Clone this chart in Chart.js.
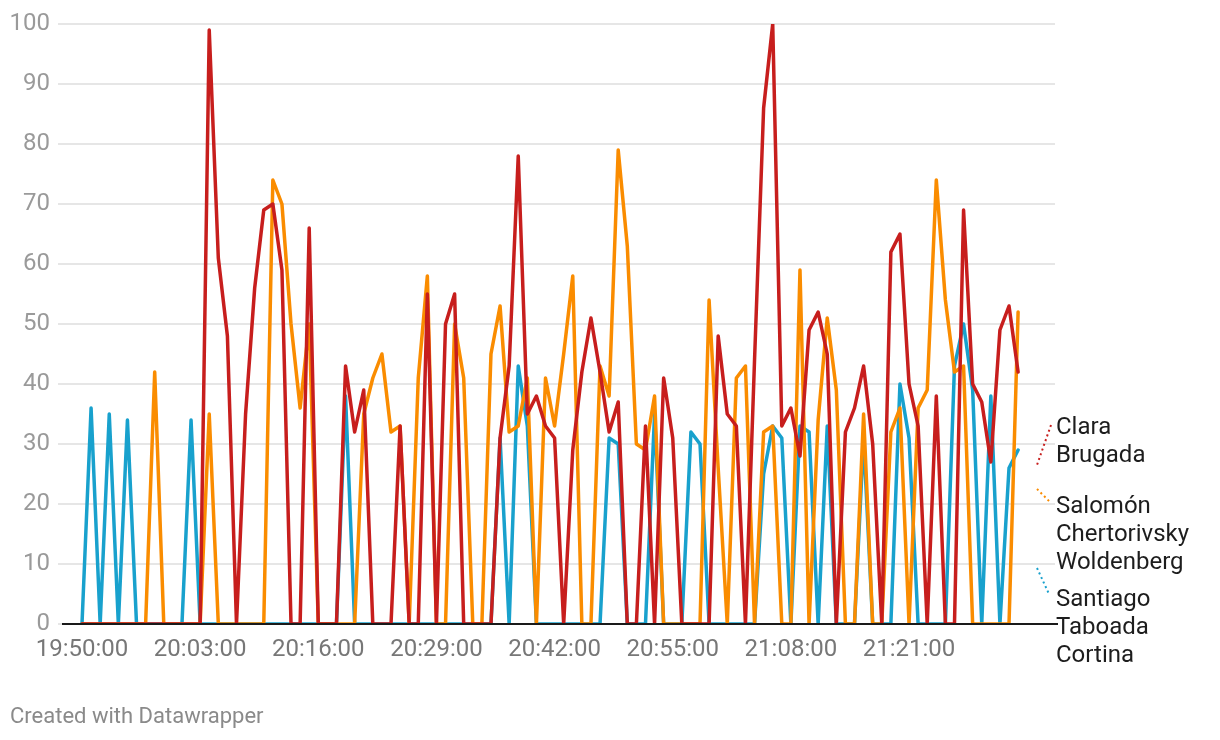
<!DOCTYPE html>
<html lang="es">
<head>
    <meta charset="UTF-8">
    <title>Menciones por minuto</title>
    <script src="https://cdn.jsdelivr.net/npm/chart.js"></script>
    <style>
        body {
            margin: 0;
            padding: 0;
            background-color: #ffffff;
            font-family: Roboto, Arial, sans-serif;
        }
        .wrap {
            position: relative;
            width: 1220px;
            height: 740px;
        }
        .credit {
            position: absolute;
            left: 10px;
            top: 703px;
            font-size: 22px;
            color: #8a8a8a;
        }
    </style>
</head>
<body>
    <div class="wrap">
        <canvas id="lineChart" width="1220" height="740"></canvas>
        <div class="credit">Created with Datawrapper</div>
    </div>
    <script>
        // one reading per minute, starting 19:50:00
        const startTime = '19:50:00';
        const tickLabels = ['19:50:00', '20:03:00', '20:16:00', '20:29:00', '20:42:00', '20:55:00', '21:08:00', '21:21:00'];
        const tickStep = 13;

        const seriesNames = [['Clara', 'Brugada'], ['Salomón', 'Chertorivsky', 'Woldenberg'], ['Santiago', 'Taboada', 'Cortina']];
        const seriesColors = ['#c71e1d', '#fa8c00', '#18a1cd'];

        const claraBrugada = [
            0, 0, 0, 0, 0, 0, 0, 0, 0, 0,
            0, 0, 0, 0, 99, 61, 48, 0, 35, 56,
            69, 70, 59, 0, 0, 66, 0, 0, 0, 43,
            32, 39, 0, 0, 0, 33, 0, 0, 55, 0,
            50, 55, 0, 0, 0, 0, 31, 43, 78, 35,
            38, 33, 31, 0, 29, 42, 51, 42, 32, 37,
            0, 0, 33, 0, 41, 31, 0, 0, 0, 0,
            48, 35, 33, 0, 44, 86, 100, 33, 36, 28,
            49, 52, 45, 0, 32, 36, 43, 30, 0, 62,
            65, 40, 33, 0, 38, 0, 0, 69, 40, 37,
            27, 49, 53, 42
        ];
        const salomonChertorivsky = [
            0, 0, 0, 0, 0, 0, 0, 0, 42, 0,
            0, 0, 0, 0, 35, 0, 0, 0, 0, 0,
            0, 74, 70, 50, 36, 50, 0, 0, 0, 0,
            0, 35, 41, 45, 32, 33, 0, 41, 58, 0,
            0, 50, 41, 0, 0, 45, 53, 32, 33, 41,
            0, 41, 33, 45, 58, 0, 0, 43, 38, 79,
            63, 30, 29, 38, 0, 0, 0, 0, 0, 54,
            26, 0, 41, 43, 0, 32, 33, 0, 0, 59,
            0, 34, 51, 39, 0, 0, 35, 0, 0, 32,
            36, 0, 36, 39, 74, 54, 42, 43, 0, 0,
            0, 0, 0, 52
        ];
        const santiagoTaboada = [
            0, 36, 0, 35, 0, 34, 0, 0, 0, 0,
            0, 0, 34, 0, 0, 0, 0, 0, 0, 0,
            0, 0, 0, 0, 0, 0, 0, 0, 0, 38,
            0, 0, 0, 0, 0, 0, 0, 0, 0, 0,
            0, 0, 0, 0, 0, 0, 31, 0, 43, 33,
            0, 0, 0, 0, 0, 0, 0, 0, 31, 30,
            0, 0, 0, 35, 0, 0, 0, 32, 30, 0,
            0, 0, 0, 0, 0, 25, 33, 31, 0, 33,
            32, 0, 33, 0, 0, 0, 31, 0, 0, 0,
            40, 31, 0, 0, 0, 0, 43, 50, 39, 0,
            38, 0, 26, 29
        ];

        // minute labels for each reading
        function minuteLabel(i) {
            const parts = startTime.split(':').map(Number);
            const total = parts[0] * 60 + parts[1] + i;
            const h = Math.floor(total / 60), m = total % 60;
            return String(h).padStart(2, '0') + ':' + String(m).padStart(2, '0') + ':00';
        }
        const minutes = claraBrugada.map((_, i) => minuteLabel(i));

        function toPoints(values) {
            return values.map((v, i) => ({ x: i, y: v }));
        }

        // labels on the right, plus the zero line
        const sidePlugin = {
            id: 'sideLabels',
            afterDatasetsDraw(chart) {
                const { ctx, chartArea, scales } = chart;
                const y0 = scales.y.getPixelForValue(0);
                ctx.save();
                ctx.strokeStyle = '#1a1a1a';
                ctx.lineWidth = 2;
                ctx.beginPath();
                ctx.moveTo(chartArea.left + 4, y0);
                ctx.lineTo(chartArea.right + 3, y0);
                ctx.stroke();
                ctx.restore();
            },
            afterDraw(chart) {
                const { ctx, chartArea } = chart;
                const x = chartArea.right + 1;
                const firstLine = [428, 507, 600];
                const lineHeight = 28;
                const dots = [
                    [[-5, -3], [-19, 37]],
                    [[-19, 61], [-6, 74]],
                    [[-19, 140], [-7, 166]]
                ];
                ctx.save();
                ctx.font = '24px Roboto, Arial, sans-serif';
                ctx.fillStyle = '#1d1d1d';
                ctx.textBaseline = 'middle';
                ctx.textAlign = 'left';
                seriesNames.forEach((lines, k) => {
                    lines.forEach((t, j) => {
                        ctx.fillText(t, x, firstLine[k] + j * lineHeight);
                    });
                    const d = dots[k];
                    ctx.strokeStyle = seriesColors[k];
                    ctx.lineWidth = 2;
                    ctx.setLineDash([2, 3]);
                    ctx.beginPath();
                    ctx.moveTo(x + d[0][0], firstLine[0] + d[0][1]);
                    ctx.lineTo(x + d[1][0], firstLine[0] + d[1][1]);
                    ctx.stroke();
                });
                ctx.restore();
            }
        };

        const ctx = document.getElementById('lineChart').getContext('2d');
        const chart = new Chart(ctx, {
            type: 'line',
            data: {
                datasets: [
                    { label: 'Clara Brugada', data: toPoints(claraBrugada), borderColor: seriesColors[0] },
                    { label: 'Salomón Chertorivsky Woldenberg', data: toPoints(salomonChertorivsky), borderColor: seriesColors[1] },
                    { label: 'Santiago Taboada Cortina', data: toPoints(santiagoTaboada), borderColor: seriesColors[2] }
                ]
            },
            options: {
                responsive: false,
                animation: false,
                layout: { padding: { top: 24, right: 165, bottom: 66, left: 0 } },
                elements: {
                    line: { borderWidth: 3.5, tension: 0, borderJoinStyle: 'round', borderCapStyle: 'round', fill: false },
                    point: { radius: 0, hoverRadius: 0 }
                },
                plugins: {
                    legend: { display: false },
                    tooltip: { enabled: false }
                },
                scales: {
                    x: {
                        type: 'linear',
                        min: -2.64,
                        max: 107.06,
                        grid: { display: false, drawTicks: false },
                        border: { display: false },
                        afterBuildTicks(scale) {
                            scale.ticks = tickLabels.map((_, k) => ({ value: k * tickStep }));
                        },
                        afterFit(scale) { scale.height = 50; },
                        ticks: {
                            autoSkip: false,
                            maxRotation: 0,
                            padding: 12,
                            color: '#777777',
                            font: { family: 'Roboto', size: 24 },
                            callback: (v) => tickLabels[Math.round(v / tickStep)]
                        }
                    },
                    y: {
                        min: 0,
                        max: 100,
                        grid: { color: '#e6e6e6', lineWidth: 2, drawTicks: false },
                        border: { display: false },
                        afterFit(scale) { scale.width = 58; },
                        ticks: {
                            stepSize: 10,
                            padding: 8,
                            color: '#9a9a9a',
                            font: { family: 'Roboto', size: 24 }
                        }
                    }
                }
            },
            plugins: [sidePlugin]
        });
    </script>
</body>
</html>
